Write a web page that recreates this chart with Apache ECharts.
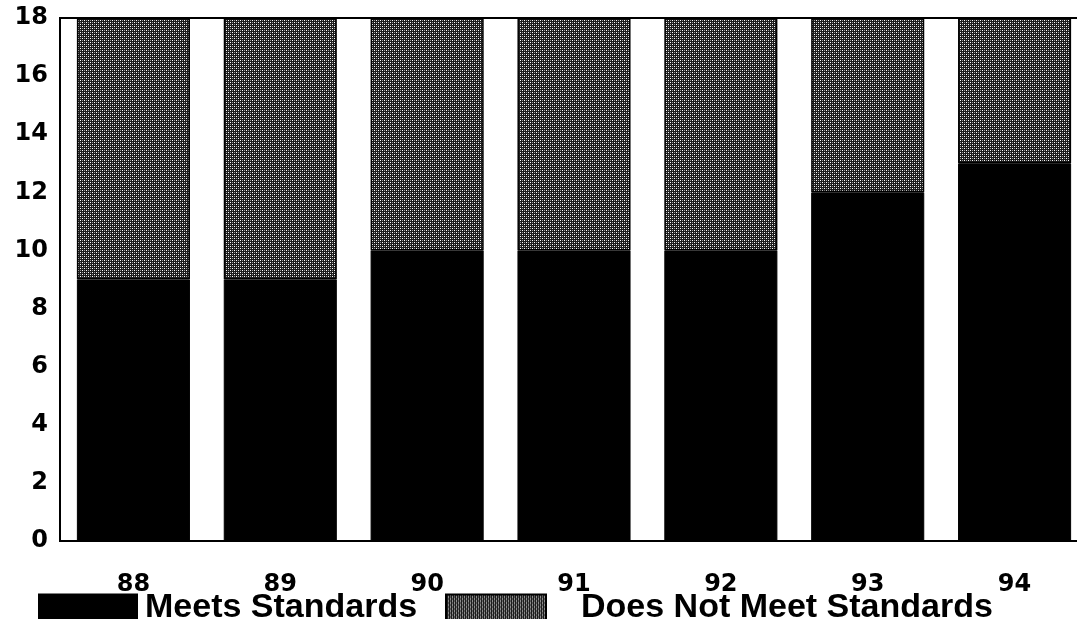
<!DOCTYPE html>
<html>
<head>
<meta charset="utf-8">
<script src="https://cdn.jsdelivr.net/npm/echarts@6/dist/echarts.min.js"></script>
<style>html,body{margin:0;padding:0;background:#fff;overflow:hidden;}#c{width:1088px;height:619px;}</style>
</head>
<body>
<div id="c"></div>
<script>
var categories = ['88', '89', '90', '91', '92', '93', '94'];
var meets = [9, 9, 10, 10, 10, 12, 13];
var doesNotMeet = [9, 9, 8, 8, 8, 6, 5];
var yTicks = [0, 2, 4, 6, 8, 10, 12, 14, 16, 18];

function makePattern() {
  var cv = document.createElement('canvas');
  cv.width = 4; cv.height = 4;
  var ctx = cv.getContext('2d');
  ctx.fillStyle = '#1c1c1c';
  ctx.fillRect(0, 0, 4, 4);
  ctx.fillStyle = '#ffffff';
  [[0,0],[2,2]].forEach(function(p){ ctx.fillRect(p[0], p[1], 1, 1); });
  ctx.fillStyle = '#9a9a9a';
  [[2,0],[0,2]].forEach(function(p){ ctx.fillRect(p[0], p[1], 1, 1); });
  return cv;
}
var pattern = { image: makePattern(), repeat: 'repeat' };

var chart = echarts.init(document.getElementById('c'));
chart.setOption({
  animation: false,
  backgroundColor: '#fff',
  grid: { left: 60, top: 18, right: 0, height: 523, show: true, borderColor: '#000', borderWidth: 2, backgroundColor: 'transparent' },
  legend: [
    { left: 38, top: 591, padding: 0, itemWidth: 98, itemHeight: 27, icon: 'rect', data: ['Meets Standards'],
      textStyle: { fontFamily: 'Liberation Sans', fontWeight: 'bold', fontSize: 34, color: '#000', padding: [0, 0, 6, 3] } },
    { left: 445, top: 591, padding: 0, itemWidth: 100, itemHeight: 27, icon: 'rect', data: ['Does Not Meet Standards'],
      textStyle: { fontFamily: 'Liberation Sans', fontWeight: 'bold', fontSize: 34, color: '#000', padding: [0, 0, 6, 30] } }
  ],
  xAxis: {
    type: 'category', data: categories,
    axisLine: { show: true, lineStyle: { color: '#000', width: 2 } },
    axisTick: { show: false },
    axisLabel: { margin: 32, fontFamily: 'DejaVu Sans', fontWeight: 'bold', fontSize: 24, color: '#000' }
  },
  yAxis: {
    type: 'value', min: 0, max: 18, interval: 2,
    axisLine: { show: true, lineStyle: { color: '#000', width: 2 } },
    axisTick: { show: false },
    splitLine: { show: false },
    axisLabel: { margin: 12, fontFamily: 'DejaVu Sans', fontWeight: 'bold', fontSize: 24, color: '#000',
      formatter: function(v){ return yTicks.indexOf(v) >= 0 ? String(v) : ''; } }
  },
  series: [
    { name: 'Meets Standards', type: 'bar', stack: 's', data: meets, barCategoryGap: '23%',
      itemStyle: { color: '#000', borderColor: '#000', borderWidth: 1 } },
    { name: 'Does Not Meet Standards', type: 'bar', stack: 's', data: doesNotMeet,
      itemStyle: { color: pattern, borderColor: '#000', borderWidth: 1.5 } }
  ]
});
</script>
</body>
</html>
